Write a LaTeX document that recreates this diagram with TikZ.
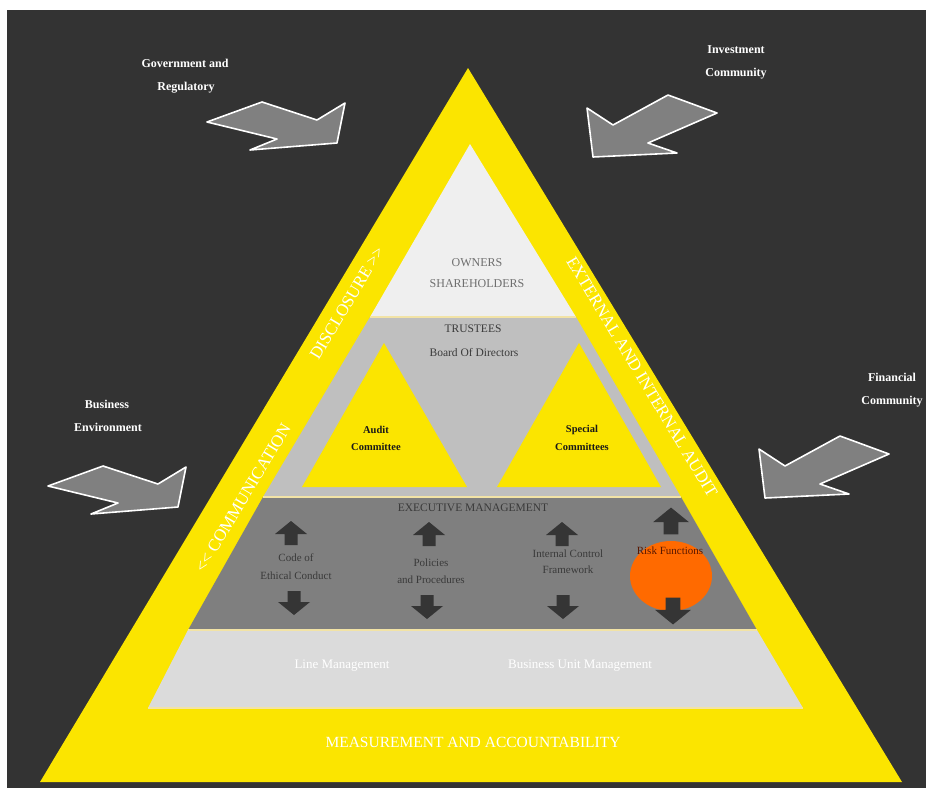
\documentclass[tikz,border=0pt]{standalone}
\usepackage{fontspec}
\setmainfont{Liberation Serif}
\definecolor{bgdark}{HTML}{333333}
\definecolor{yel}{HTML}{FBE500}
\definecolor{ownersc}{HTML}{EFEFEF}
\definecolor{trusteesc}{HTML}{BFBFBF}
\definecolor{execc}{HTML}{7F7F7F}
\definecolor{linec}{HTML}{DBDBDB}
\definecolor{sepc}{HTML}{F2E3A6}
\definecolor{arrdark}{HTML}{353535}
\definecolor{extarr}{HTML}{808080}
\definecolor{orangec}{HTML}{FF6A00}
\definecolor{riskc}{HTML}{5A1800}
\definecolor{ownertxt}{HTML}{6E6E6E}
\definecolor{darktxt}{HTML}{3A3A3A}
\begin{document}
\begin{tikzpicture}[x=1pt,y=-1pt,
  outlbl/.style={text=white,font=\fontsize{12}{12}\selectfont\bfseries,inner sep=0pt},
  bandlbl/.style={text=white,font=\fontsize{17}{17}\selectfont,inner sep=0pt},
  ownlbl/.style={text=ownertxt,font=\fontsize{12}{12}\selectfont,inner sep=0pt},
  trlbl/.style={text=darktxt,font=\fontsize{11.5}{11.5}\selectfont,inner sep=0pt},
  comlbl/.style={text=black!90,font=\fontsize{10.5}{10.5}\selectfont\bfseries,inner sep=0pt},
  exlbl/.style={text=darktxt,font=\fontsize{11}{11}\selectfont,inner sep=0pt},
  mgmtlbl/.style={text=white,font=\fontsize{13}{13}\selectfont,inner sep=0pt},
  extarrow/.style={fill=extarr,draw=white,line width=1.6pt,line join=round},
  sepline/.style={draw=sepc,line width=1.4pt},
  blockup/.pic={\fill[arrdark] (0,-12) -- (16,1) -- (6.5,1) -- (6.5,12) -- (-6.5,12) -- (-6.5,1) -- (-16,1) -- cycle;}
]
\useasboundingbox (0,0) rectangle (926,788);
\fill[white] (0,0) rectangle (926,788);
\fill[bgdark] (7,10) rectangle (926,788);

% outer pyramid
\fill[yel] (468,68) -- (902,782) -- (40,782) -- cycle;
% bands
\fill[ownersc] (470,144) -- (576,317) -- (370,317) -- cycle;
\fill[trusteesc] (370,317) -- (576,317) -- (681,497) -- (263,497) -- cycle;
\fill[execc] (263,497) -- (681,497) -- (757,630) -- (188,630) -- cycle;
\fill[linec] (188,630) -- (757,630) -- (803,708) -- (148,708) -- cycle;
\draw[sepline] (370,317) -- (576,317);
\draw[sepline] (263,497) -- (681,497);
\draw[sepline] (188,630) -- (757,630);
\draw[sepline] (148,708) -- (803,708);

% committees
\fill[yel] (384,343) -- (467,487) -- (302,487) -- cycle;
\fill[yel] (579,343) -- (661,487) -- (497,487) -- cycle;

% outside arrows
\draw[extarrow] (207,122) -- (262,102) -- (317,120) -- (345,103) -- (337,143) -- (250,150) -- (277,139) -- cycle;
\draw[extarrow] (593,157) -- (587,108) -- (613,125) -- (668,95) -- (717,113) -- (648,143) -- (677,153) -- cycle;
\draw[extarrow] (48,486) -- (103,466) -- (158,484) -- (186,467) -- (178,507) -- (91,514) -- (118,503) -- cycle;
\draw[extarrow] (765,498) -- (759,449) -- (785,466) -- (840,436) -- (889,454) -- (820,484) -- (849,494) -- cycle;

% outside labels
\node[outlbl] (gov1) at (185,63) {Government and};
\node[outlbl] (gov2) at (186,88) {Regulatory};
\node[outlbl] (inv1) at (736,50) {Investment};
\node[outlbl] (inv2) at (736,74) {Community};
\node[outlbl] (bus1) at (107,404) {Business};
\node[outlbl] (bus2) at (108,427) {Environment};
\node[outlbl] (fin1) at (892,377) {Financial};
\node[outlbl] (fin2) at (892,402) {Community};

% band labels along the sides
\node[bandlbl,rotate=59] (comm) at (243,498) {<{}< COMMUNICATION};
\node[bandlbl,rotate=59] (disc) at (347,303) {DISCLOSURE >{}>};
\node[bandlbl,rotate=-59] (audit) at (642,377) {EXTERNAL AND INTERNAL AUDIT};
\node[bandlbl,font=\fontsize{15.5}{15.5}\selectfont] (meas) at (473,742) {MEASUREMENT AND ACCOUNTABILITY};

% inner labels
\node[ownlbl] (own1) at (477,263) {OWNERS};
\node[ownlbl] (own2) at (477,284) {SHAREHOLDERS};
\node[trlbl] (tr1) at (473,329) {TRUSTEES};
\node[trlbl] (tr2) at (474,352) {Board Of Directors};
\node[comlbl] (aud1) at (376,430) {Audit};
\node[comlbl] (aud2) at (376,447) {Committee};
\node[comlbl] (spc1) at (582,430) {Special};
\node[comlbl] (spc2) at (582,447) {Committees};
\node[trlbl] (exec) at (473,508) {EXECUTIVE MANAGEMENT};

% risk ellipse
\fill[orangec] (671,576) ellipse [x radius=41, y radius=35];

% block arrows
\pic at (291,533) {blockup};
\pic[yscale=-1] at (294,603) {blockup};
\pic at (429,534) {blockup};
\pic[yscale=-1] at (427,607) {blockup};
\pic at (562,534) {blockup};
\pic[yscale=-1] at (563,607) {blockup};
\pic[scale=1.12] at (671,521) {blockup};
\pic[scale=1.12,yscale=-1] at (673,611) {blockup};

\node[exlbl] (code1) at (296,558) {Code of};
\node[exlbl] (code2) at (296,576) {Ethical Conduct};
\node[exlbl] (pol1) at (431,563) {Policies};
\node[exlbl] (pol2) at (431,580) {and Procedures};
\node[exlbl] (icf1) at (568,554) {Internal Control};
\node[exlbl] (icf2) at (568,570) {Framework};
\node[exlbl,text=riskc] (risk) at (670,551) {Risk Functions};

\node[mgmtlbl] (linem) at (342,666) {Line Management};
\node[mgmtlbl] (bum) at (580,666) {Business Unit Management};
\end{tikzpicture}
\end{document}
